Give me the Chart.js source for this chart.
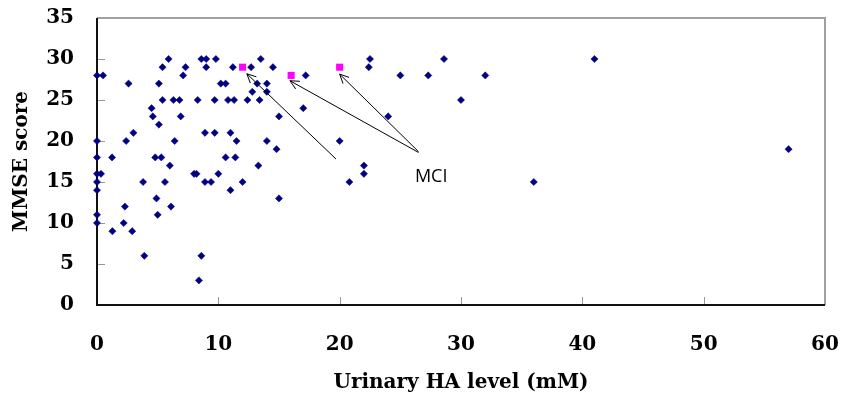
<!DOCTYPE html>
<html>
<head>
<meta charset="utf-8">
<script src="https://cdn.jsdelivr.net/npm/chart.js@4"></script>
<style>
  html, body { margin: 0; padding: 0; background: #fff; }
  #wrap { width: 844px; height: 414px; }
</style>
</head>
<body>
<div id="wrap"><canvas id="c" width="844" height="414"></canvas></div>
<script>
// Urinary HA level (mM) and MMSE score, all subjects
const haLevel = [0,0,0,0,0,0,0,0,0.5,0.33,1.24,1.27,2.2,2.3,2.4,2.6,2.9,3.0,3.8,3.9,
  4.5,4.6,4.8,4.9,5.0,5.1,5.1,5.3,5.4,5.4,5.6,5.9,6.0,6.1,6.3,6.4,6.8,6.9,7.1,7.3,
  8.0,8.2,8.3,8.4,8.6,8.6,8.9,8.9,9.0,9.0,9.4,9.7,9.7,9.8,10.0,10.2,10.6,10.6,10.8,11.0,
  11.0,11.2,11.3,11.4,11.5,12.0,12.4,12.7,12.8,13.2,13.3,13.4,13.5,14.0,14.0,14.0,14.5,14.8,15.0,15.0,
  17.0,17.2,20.0,20.8,22.0,22.0,22.4,22.5,24.0,25.0,27.3,28.6,30.0,32.0,36.0,41.0,57.0];
const mmse = [28,20,18,16,15,14,11,10,28,16,18,9,10,12,20,27,9,21,15,6,
  24,23,18,13,11,27,22,18,29,25,15,30,17,12,25,20,25,23,28,29,
  16,16,25,3,6,30,21,15,30,29,15,25,21,30,16,27,27,18,25,21,
  14,29,25,18,20,15,25,29,26,27,17,25,30,27,26,20,29,19,23,13,
  24,28,20,15,17,16,29,30,23,28,28,30,25,28,15,30,19];

// MCI subjects
const mciHA = [12, 16, 20];
const mciMMSE = [29, 28, 29];

// Annotation "MCI" (data units)
const mciLabel = "MCI";
const mciLabelX = 26.2, mciLabelY = 15.0;
const arrowTailX = [19.7, 26.5, 26.5];
const arrowTailY = [17.8, 18.6, 18.7];
const arrowHeadX = [12.35, 15.9, 20.0];
const arrowHeadY = [28.2, 27.35, 28.15];

// Axis ticks
const xTicks = [0, 10, 20, 30, 40, 50, 60];
const yTicks = [0, 5, 10, 15, 20, 25, 30, 35];

const serif = "'DejaVu Serif', serif";

const framePlugin = {
  id: 'frame',
  beforeDatasetsDraw(chart) {
    const {ctx, chartArea: a, scales: {x, y}} = chart;
    ctx.save();
    // tick marks (inside)
    ctx.strokeStyle = '#999';
    ctx.lineWidth = 1;
    ctx.beginPath();
    xTicks.forEach(v => {
      const px = Math.round(x.getPixelForValue(v)) + 0.5;
      ctx.moveTo(px, a.bottom); ctx.lineTo(px, a.bottom - 8);
    });
    yTicks.forEach(v => {
      const py = Math.round(y.getPixelForValue(v)) + 0.5;
      ctx.moveTo(a.left, py); ctx.lineTo(a.left + 8, py);
    });
    ctx.stroke();
    // top & right border
    ctx.strokeStyle = '#a0a0a0';
    ctx.lineWidth = 2;
    ctx.beginPath();
    ctx.moveTo(a.left, a.top); ctx.lineTo(a.right, a.top); ctx.lineTo(a.right, a.bottom);
    ctx.stroke();
    // left & bottom axis
    ctx.strokeStyle = '#111';
    ctx.lineWidth = 2;
    ctx.beginPath();
    ctx.moveTo(a.left, a.top); ctx.lineTo(a.left, a.bottom); ctx.lineTo(a.right, a.bottom);
    ctx.stroke();
    ctx.restore();
  },
  afterDatasetsDraw(chart) {
    const {ctx, scales: {x, y}} = chart;
    ctx.save();
    ctx.strokeStyle = '#000';
    ctx.lineWidth = 1;
    for (let i = 0; i < arrowTailX.length; i++) {
      const x0 = x.getPixelForValue(arrowTailX[i]), y0 = y.getPixelForValue(arrowTailY[i]);
      const x1 = x.getPixelForValue(arrowHeadX[i]), y1 = y.getPixelForValue(arrowHeadY[i]);
      const ang = Math.atan2(y0 - y1, x0 - x1);
      const L = 10, w = 0.45;
      ctx.beginPath();
      ctx.moveTo(x0, y0); ctx.lineTo(x1, y1);
      ctx.moveTo(x1 + L * Math.cos(ang - w), y1 + L * Math.sin(ang - w));
      ctx.lineTo(x1, y1);
      ctx.lineTo(x1 + L * Math.cos(ang + w), y1 + L * Math.sin(ang + w));
      ctx.stroke();
    }
    ctx.fillStyle = '#000';
    ctx.font = "18px 'Open Sans', sans-serif";
    ctx.textAlign = 'left';
    ctx.textBaseline = 'alphabetic';
    ctx.fillText(mciLabel, x.getPixelForValue(mciLabelX), y.getPixelForValue(mciLabelY));
    ctx.restore();
  }
};

new Chart(document.getElementById('c'), {
  type: 'scatter',
  data: {
    datasets: [
      {
        label: 'All',
        data: haLevel.map((v, i) => ({x: v, y: mmse[i]})),
        pointStyle: 'rectRot',
        pointRadius: 3.6,
        pointHoverRadius: 3.6,
        backgroundColor: '#000080',
        borderColor: '#000080',
        borderWidth: 0.5,
        clip: false
      },
      {
        label: 'MCI',
        data: mciHA.map((v, i) => ({x: v, y: mciMMSE[i]})),
        pointStyle: 'rect',
        pointRadius: 5,
        pointHoverRadius: 5,
        backgroundColor: '#ff00ff',
        borderColor: '#ff00ff',
        borderWidth: 0,
        clip: false
      }
    ]
  },
  options: {
    responsive: false,
    animation: false,
    events: [],
    layout: { padding: { top: 18, right: 19, left: 0, bottom: 0 } },
    plugins: { legend: { display: false }, tooltip: { enabled: false } },
    scales: {
      x: {
        type: 'linear',
        min: 0, max: 60,
        afterBuildTicks: s => { s.ticks = xTicks.map(v => ({value: v})); },
        afterFit: s => { s.height = 109; s.paddingLeft = 0; s.paddingRight = 0; },
        grid: { display: false, drawTicks: false },
        border: { display: false },
        ticks: { color: '#000', padding: 28, font: { family: serif, size: 20, weight: 'bold' } },
        title: { display: true, text: 'Urinary HA level (mM)', color: '#000',
                 padding: { top: 0, bottom: 19 }, font: { family: serif, size: 20, weight: 'bold' } }
      },
      y: {
        type: 'linear',
        min: 0, max: 35,
        afterBuildTicks: s => { s.ticks = yTicks.map(v => ({value: v})); },
        afterFit: s => { s.width = 97; s.paddingTop = 0; s.paddingBottom = 0; },
        grid: { display: false, drawTicks: false },
        border: { display: false },
        ticks: { color: '#000', padding: 23, font: { family: serif, size: 20, weight: 'bold' } },
        title: { display: true, text: 'MMSE score', color: '#000',
                 padding: { top: 10, bottom: 0 }, font: { family: serif, size: 20, weight: 'bold' } }
      }
    }
  },
  plugins: [framePlugin]
});
</script>
</body>
</html>
